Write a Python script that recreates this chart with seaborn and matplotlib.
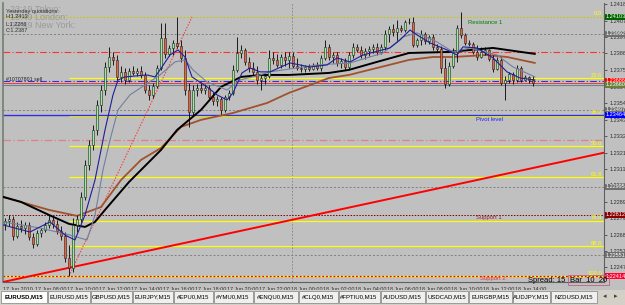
import numpy as np
import pandas as pd
import matplotlib
matplotlib.use("Agg")
import matplotlib.pyplot as plt
from matplotlib.patches import Rectangle
import seaborn as sns

# ---------------- data (EURUSD M15, 17-18 Jun 2010) ----------------
opens = [1.22754, 1.22773, 1.22786, 1.22675, 1.22741, 1.22727, 1.22747, 1.22669, 1.22623, 1.22695,
         1.22714, 1.22747, 1.22780, 1.22754, 1.22708, 1.22675, 1.22532, 1.22467, 1.22747, 1.22786,
         1.22930, 1.23138, 1.23269, 1.23366, 1.23529, 1.23627, 1.23777, 1.23842, 1.23823, 1.23712,
         1.23745, 1.23692, 1.23751, 1.23738, 1.23751, 1.23725, 1.23627, 1.23595, 1.23653, 1.23771,
         1.23966, 1.23862, 1.23901, 1.23934, 1.23914, 1.23836, 1.23627, 1.23484, 1.23627, 1.23640,
         1.23627, 1.23640, 1.23582, 1.23555, 1.23569, 1.23497, 1.23582, 1.23608, 1.23758, 1.23868,
         1.23888, 1.23810, 1.23771, 1.23745, 1.23692, 1.23705, 1.23718, 1.23836, 1.23823, 1.23790,
         1.23842, 1.23823, 1.23849, 1.23784, 1.23771, 1.23764, 1.23777, 1.23764, 1.23790, 1.23771,
         1.23836, 1.23908, 1.23842, 1.23855, 1.23803, 1.23816, 1.23777, 1.23855, 1.23908, 1.23888,
         1.23855, 1.23881, 1.23895, 1.23908, 1.23875, 1.23908, 1.23992, 1.24025, 1.24005, 1.24031,
         1.24018, 1.24071, 1.24071, 1.23921, 1.23953, 1.23992, 1.23947, 1.23973, 1.23908, 1.23895,
         1.23771, 1.23666, 1.23784, 1.23875, 1.24031, 1.23986, 1.23934, 1.23927, 1.23875, 1.23842,
         1.23875, 1.23888, 1.23829, 1.23764, 1.23823, 1.23673, 1.23692, 1.23732, 1.23692, 1.23771,
         1.23692, 1.23712, 1.23692]
highs = [1.22793, 1.22812, 1.22806, 1.22767, 1.22780, 1.22767, 1.22767, 1.22695, 1.22714, 1.22727,
         1.22767, 1.22812, 1.22806, 1.22780, 1.22741, 1.22701, 1.22617, 1.22793, 1.22812, 1.22962,
         1.23171, 1.23301, 1.23399, 1.23562, 1.23660, 1.23810, 1.23908, 1.23875, 1.23855, 1.23784,
         1.23771, 1.23771, 1.23784, 1.23771, 1.23784, 1.23745, 1.23660, 1.23673, 1.23790, 1.24064,
         1.24064, 1.23921, 1.23953, 1.24103, 1.23953, 1.23888, 1.23673, 1.23660, 1.23666, 1.23679,
         1.23666, 1.23660, 1.23614, 1.23588, 1.23582, 1.23595, 1.23627, 1.23790, 1.23973, 1.23921,
         1.23901, 1.23842, 1.23810, 1.23784, 1.23725, 1.23738, 1.23888, 1.23875, 1.23862, 1.23862,
         1.23875, 1.23875, 1.23875, 1.23836, 1.23797, 1.23790, 1.23797, 1.23803, 1.23810, 1.23855,
         1.23953, 1.23927, 1.23875, 1.23875, 1.23836, 1.23836, 1.23875, 1.23934, 1.23927, 1.23914,
         1.23901, 1.23914, 1.23927, 1.23934, 1.23927, 1.24018, 1.24044, 1.24058, 1.24084, 1.24051,
         1.24084, 1.24097, 1.24103, 1.23966, 1.24018, 1.24005, 1.23986, 1.23992, 1.23927, 1.23914,
         1.23836, 1.23810, 1.23901, 1.24051, 1.24136, 1.23999, 1.23953, 1.23940, 1.23921, 1.23908,
         1.23908, 1.23895, 1.23855, 1.23842, 1.23842, 1.23718, 1.23745, 1.23745, 1.23790, 1.23784,
         1.23725, 1.23718, 1.23718]
lows = [1.22714, 1.22741, 1.22649, 1.22662, 1.22701, 1.22688, 1.22649, 1.22597, 1.22610, 1.22669,
        1.22701, 1.22727, 1.22727, 1.22688, 1.22649, 1.22506, 1.22414, 1.22441, 1.22701, 1.22767,
        1.22910, 1.23106, 1.23236, 1.23334, 1.23484, 1.23595, 1.23745, 1.23790, 1.23692, 1.23679,
        1.23666, 1.23679, 1.23725, 1.23718, 1.23705, 1.23608, 1.23562, 1.23575, 1.23640, 1.23758,
        1.23836, 1.23849, 1.23855, 1.23901, 1.23810, 1.23595, 1.23386, 1.23464, 1.23588, 1.23608,
        1.23601, 1.23562, 1.23529, 1.23523, 1.23471, 1.23484, 1.23562, 1.23595, 1.23745, 1.23836,
        1.23790, 1.23745, 1.23718, 1.23666, 1.23627, 1.23666, 1.23705, 1.23797, 1.23777, 1.23771,
        1.23784, 1.23771, 1.23771, 1.23758, 1.23745, 1.23745, 1.23751, 1.23758, 1.23758, 1.23751,
        1.23823, 1.23823, 1.23803, 1.23784, 1.23771, 1.23758, 1.23764, 1.23836, 1.23875, 1.23836,
        1.23829, 1.23849, 1.23868, 1.23855, 1.23862, 1.23888, 1.23940, 1.23979, 1.23940, 1.24005,
        1.24005, 1.24058, 1.23908, 1.23908, 1.23921, 1.23927, 1.23927, 1.23888, 1.23875, 1.23738,
        1.23640, 1.23653, 1.23771, 1.23810, 1.23966, 1.23921, 1.23914, 1.23862, 1.23823, 1.23836,
        1.23855, 1.23816, 1.23745, 1.23758, 1.23660, 1.23562, 1.23673, 1.23666, 1.23679, 1.23679,
        1.23686, 1.23673, 1.23653]
closes = [1.22773, 1.22786, 1.22675, 1.22741, 1.22727, 1.22747, 1.22669, 1.22623, 1.22695, 1.22714,
          1.22747, 1.22780, 1.22754, 1.22708, 1.22675, 1.22532, 1.22467, 1.22747, 1.22786, 1.22930,
          1.23138, 1.23269, 1.23366, 1.23529, 1.23627, 1.23777, 1.23842, 1.23823, 1.23712, 1.23745,
          1.23692, 1.23751, 1.23738, 1.23751, 1.23725, 1.23627, 1.23595, 1.23653, 1.23771, 1.23966,
          1.23862, 1.23901, 1.23934, 1.23914, 1.23836, 1.23627, 1.23484, 1.23627, 1.23640, 1.23627,
          1.23640, 1.23582, 1.23555, 1.23569, 1.23497, 1.23582, 1.23608, 1.23758, 1.23868, 1.23888,
          1.23810, 1.23771, 1.23745, 1.23692, 1.23705, 1.23718, 1.23836, 1.23823, 1.23790, 1.23842,
          1.23823, 1.23849, 1.23784, 1.23771, 1.23764, 1.23777, 1.23764, 1.23790, 1.23771, 1.23836,
          1.23908, 1.23842, 1.23855, 1.23803, 1.23816, 1.23777, 1.23855, 1.23908, 1.23888, 1.23855,
          1.23881, 1.23895, 1.23908, 1.23875, 1.23908, 1.23992, 1.24025, 1.24005, 1.24031, 1.24018,
          1.24071, 1.24072, 1.23921, 1.23953, 1.23992, 1.23947, 1.23973, 1.23908, 1.23895, 1.23771,
          1.23666, 1.23784, 1.23875, 1.24031, 1.23986, 1.23934, 1.23927, 1.23875, 1.23842, 1.23875,
          1.23888, 1.23829, 1.23764, 1.23823, 1.23673, 1.23692, 1.23732, 1.23692, 1.23771, 1.23692,
          1.23712, 1.23692, 1.23673]

# moving averages read at sample bars
ma_black_bar = [-0.5, 4, 11, 16, 20, 22.5, 25, 31, 39, 43, 49, 54, 59, 64, 71, 81, 86, 93, 101, 111, 122, 132.5]
ma_black_val = [1.22930, 1.22897, 1.22812, 1.22754, 1.22734, 1.22767, 1.22845, 1.23027, 1.23236, 1.23366,
                1.23497, 1.23647, 1.23712, 1.23725, 1.23725, 1.23738, 1.23758, 1.23810, 1.23868, 1.23875,
                1.23901, 1.23862]
ma_brown_bar = [-0.5, 11, 18, 24, 29, 34, 39, 44, 49, 57, 65.5, 71, 81, 86, 96, 101, 107, 112, 120.5, 125.5, 132.5]
ma_brown_val = [1.22930, 1.22845, 1.22806, 1.22864, 1.23040, 1.23171, 1.23249, 1.23386, 1.23432, 1.23477,
                1.23542, 1.23608, 1.23705, 1.23725, 1.23790, 1.23823, 1.23842, 1.23842, 1.23855, 1.23842,
                1.23803]
ma_blue_bar = [-0.5, 6.25, 11.25, 15, 17.5, 20, 22.5, 25, 27, 28.25, 30, 35.5, 37.5, 38.75, 41.25, 43.25,
               45, 46.75, 50.5, 53, 55.5, 57, 59.25, 61.25, 63.75, 66.25, 71.25, 76.25, 80.5, 83, 86.25,
               89.5, 96.25, 98.75, 101.25, 103, 106.25, 110.5, 113, 114.5, 118, 122, 125.5, 128.75, 132.5]
ma_blue_val = [1.22747, 1.22701, 1.22767, 1.22681, 1.22649, 1.22812, 1.23040, 1.23366, 1.23595, 1.23692,
               1.23712, 1.23725, 1.23712, 1.23758, 1.23855, 1.23888, 1.23842, 1.23712, 1.23647, 1.23595,
               1.23562, 1.23608, 1.23738, 1.23771, 1.23745, 1.23745, 1.23803, 1.23777, 1.23790, 1.23836,
               1.23810, 1.23855, 1.23901, 1.23953, 1.24018, 1.23986, 1.23934, 1.23888, 1.23855, 1.23908,
               1.23901, 1.23836, 1.23745, 1.23705, 1.23692]
ma_gray_bar = [-0.5, 8.75, 16.25, 20.5, 22.5, 24.5, 26.25, 28.25, 31.25, 35, 38.75, 42.5, 45, 47, 50.5,
               55.5, 58.75, 63.75, 66.25, 78, 86.25, 94.5, 99.5, 103, 108, 112, 116.25, 123, 127, 132.5]
ma_gray_val = [1.22767, 1.22727, 1.22681, 1.22649, 1.22812, 1.23106, 1.23301, 1.23497, 1.23595, 1.23660,
               1.23725, 1.23810, 1.23823, 1.23758, 1.23679, 1.23627, 1.23692, 1.23725, 1.23745, 1.23790,
               1.23803, 1.23868, 1.23973, 1.23999, 1.23940, 1.23875, 1.23901, 1.23855, 1.23777, 1.23712]

# trend line and fibonacci anchors
trend_bar = [-0.5, 149.75]
trend_val = [1.22375, 1.23218]
fib_anchor_bar = [16, 46.75]
fib_anchor_val = [1.22414, 1.24103]
fib_names = ["0.0", "23.6", "38.2", "50.0", "61.8", "78.6", "88.6", "100.0"]
fib_prices = [1.24103, 1.23704, 1.23458, 1.23259, 1.23059, 1.22775, 1.22607, 1.22414]

# other horizontal levels
pivot_price = 1.23464
level_prices = [1.23992, 1.23875, 1.23686, 1.23673, 1.23660, 1.23497, 1.23301, 1.22995, 1.22812, 1.22551]

price_ticks = [1.24185, 1.24075, 1.23970, 1.23865, 1.23755, 1.23645, 1.23540, 1.23430, 1.23325,
               1.23215, 1.23110, 1.23005, 1.22895, 1.22790, 1.22680, 1.22575, 1.22470]
time_labels = ["17 Jun 2010", "17 Jun 08:00", "17 Jun 10:00", "17 Jun 12:00", "17 Jun 14:00",
               "17 Jun 16:00", "17 Jun 18:00", "17 Jun 20:00", "17 Jun 22:00", "18 Jun 00:00",
               "18 Jun 02:00", "18 Jun 04:00", "18 Jun 06:00", "18 Jun 08:00", "18 Jun 10:00",
               "18 Jun 12:00", "18 Jun 14:00"]
tab_names = ["EURUSD,M15", "EURUSD,M15", "GBPUSD,M15", "EURJPY,M15", "#EPU0,M15", "#YMU0,M15",
             "#ENQU0,M15", "#CLQ0,M15", "#FPTIU0,M15", "AUDUSD,M15", "USDCAD,M15", "EURGBP,M15",
             "AUDJPY,M15", "NZDUSD,M15"]

# ---------------- figure ----------------
sns.set_style("white")
plt.rcParams["font.family"] = ["Liberation Sans", "DejaVu Sans"]
W, H = 625, 305
BG = "#C0C0C0"
fig = plt.figure(figsize=(W / 100, H / 100), dpi=100, facecolor=BG)
ax = fig.add_axes([3 / W, 1 - 282 / H, (604 - 3) / W, (282 - 3) / H])
ax.set_facecolor(BG)
ax.set_xlim(-0.5, 149.75)
ax.set_ylim(1.22375, 1.24194)

bars = np.arange(len(closes))
df = pd.DataFrame({"bar": bars, "open": opens, "high": highs, "low": lows, "close": closes})

# grid / separators
ax.axvline(71.75, color="#808080", lw=0.6, ls=(0, (2, 2)), zorder=1)

# horizontal levels
ax.axhline(level_prices[0], color="#808080", lw=0.7, ls=(0, (2, 2)), zorder=1)
ax.axhline(level_prices[1], color="#FF3030", lw=0.8, ls=(0, (6, 2, 1, 2)), zorder=1)
ax.axhline(level_prices[5], color="#808080", lw=0.7, ls=(0, (2, 2)), zorder=1)
ax.axhline(level_prices[6], color="#E08080", lw=0.9, ls=(0, (6, 2, 1, 2)), zorder=1)
ax.axhline(level_prices[7], color="#808080", lw=0.7, ls=(0, (2, 2)), zorder=1)
ax.axhline(level_prices[8], color="#800000", lw=0.7, ls=(0, (1.5, 1.5)), zorder=1)
ax.axhline(level_prices[9], color="#808080", lw=0.7, ls=(0, (2, 2)), zorder=1)

# fibonacci
for name, p in zip(fib_names, fib_prices):
    if name in ("0.0", "100.0"):
        continue
    ax.hlines(p, fib_anchor_bar[0], 149.75, color="#FFFF00", lw=0.9, zorder=2)
ax.axhline(fib_prices[0], color="#C8C800", lw=0.8, ls=(0, (1.5, 1.5)), zorder=2)
ax.axhline(fib_prices[-1], color="#FFFF00", lw=0.9, zorder=2)
ax.axhline(fib_prices[-1], color="#FF0000", lw=0.9, ls=(0, (1.5, 1.5)), zorder=2)
for name, p in zip(fib_names, fib_prices):
    ax.text(149.3, p + 0.00003, name, color="#FFFF00", fontsize=4.2, ha="right", va="bottom", zorder=3)
ax.plot(fib_anchor_bar, fib_anchor_val, color="#FF3030", lw=0.7, ls=(0, (1.5, 1.5)), zorder=3)

# pivot and order lines
ax.axhline(pivot_price, color="#3030E0", lw=1.0, zorder=2)
ax.axhline(level_prices[2], color="#3030E0", lw=0.8, ls=(0, (6, 2, 1, 2)), zorder=2)
ax.axhline(level_prices[3], color="#FF2020", lw=0.6, zorder=2)
ax.axhline(level_prices[4], color="#708090", lw=0.8, zorder=2)

# trend line
sns.lineplot(x=trend_bar, y=trend_val, ax=ax, color="#FF0000", lw=1.4, zorder=3)

# moving averages
sns.lineplot(x=ma_brown_bar, y=ma_brown_val, ax=ax, color="#A0522D", lw=1.3, zorder=4)
sns.lineplot(x=ma_black_bar, y=ma_black_val, ax=ax, color="#000000", lw=1.4, zorder=4)
sns.lineplot(x=ma_gray_bar, y=ma_gray_val, ax=ax, color="#7080A0", lw=0.8, zorder=6)
sns.lineplot(x=ma_blue_bar, y=ma_blue_val, ax=ax, color="#1E1E9A", lw=0.8, zorder=6)

# candles
up = df["close"] >= df["open"]
ax.vlines(df["bar"], df["low"], df["high"], color="#000000", lw=0.6, zorder=5)
body_bottom = np.minimum(df["open"], df["close"])
body_h = np.maximum(np.abs(df["close"] - df["open"]), 0.000015)
colors = np.where(up, "#9CEB9C", "#E8643C")
ax.bar(df["bar"], body_h, bottom=body_bottom, width=0.72, color=colors,
       edgecolor="#202020", linewidth=0.4, zorder=5)

# labels on levels
ax.text(120, 1.24070, "Resistance 1", color="#008000", fontsize=4.2, ha="center", va="center", zorder=7)
ax.text(121, pivot_price - 0.00028, "Pivot level", color="#2020FF", fontsize=4.2, ha="center", va="center", zorder=7)
ax.text(121, level_prices[8] - 0.00018, "Support 1", color="#A02020", fontsize=4.2, ha="center", va="center", zorder=7)
ax.text(122, fib_prices[-1] - 0.00018, "Support 2", color="#E03050", fontsize=4.2, ha="center", va="center", zorder=7)
ax.text(0.2, level_prices[2] + 0.00010, "#10707801 sell", color="#202020", fontsize=3.8, ha="left", va="center", zorder=7)

# axes styling
for s in ["top", "right"]:
    ax.spines[s].set_visible(False)
ax.spines["left"].set_color("#708070")
ax.spines["left"].set_linewidth(1.2)
ax.spines["bottom"].set_color("#606060")
ax.spines["bottom"].set_linewidth(0.8)
ax.yaxis.tick_right()
ax.set_yticks(price_ticks)
ax.set_yticklabels([f"{v:.5f}" for v in price_ticks])
ax.tick_params(axis="y", labelsize=4.0, length=2, pad=2, colors="#303030", width=0.5)
ax.spines["right"].set_visible(True)
ax.spines["right"].set_color("#606060")
ax.spines["right"].set_linewidth(0.8)
xt = [8 * k - 0.5 for k in range(len(time_labels))]
ax.set_xticks(xt)
ax.set_xticklabels(time_labels, ha="left")
ax.tick_params(axis="x", labelsize=3.9, length=2, pad=1.5, colors="#303030", width=0.5)
ax.set_xlabel("")
ax.set_ylabel("")
if ax.get_legend():
    ax.get_legend().remove()

# price boxes on the right axis
boxes = [(fib_prices[0], "#006400", "white"), (level_prices[0], "#707070", "white"),
         (level_prices[2], "#FF0000", "white"), (level_prices[4], "#6B7F3A", "white"),
         (level_prices[5], "#707070", "white"), (pivot_price, "#0000FF", "white"),
         (level_prices[7], "#707070", "white"), (level_prices[8], "#8B0000", "white"),
         (level_prices[9], "#707070", "white"), (fib_prices[-1], "#FF0030", "white")]
tr = matplotlib.transforms.blended_transform_factory(ax.transAxes, ax.transData)
for p, fc, tc in boxes:
    ax.text(1.003, p, f"{p:.5f}", transform=tr, fontsize=4.0, color=tc, ha="left", va="center",
            bbox=dict(boxstyle="square,pad=0.15", fc=fc, ec="none"), clip_on=False, zorder=8)

# top-left info
fig.text(10 / W, 1 - 9 / H, "23:19 Tokyo:", color="#9A9A9A", fontsize=6.5, va="center")
fig.text(10 / W, 1 - 17 / H, "15:49 London:", color="#9A9A9A", fontsize=6.5, va="center")
fig.text(10 / W, 1 - 25 / H, "09:49 New York:", color="#9A9A9A", fontsize=6.5, va="center")
fig.text(6 / W, 1 - 11 / H, "Yesterday quotations:", color="#303030", fontsize=4, va="center")
fig.text(6 / W, 1 - 17 / H, "H:1.2413", color="#303030", fontsize=4, va="center")
fig.text(6 / W, 1 - 24 / H, "L:1.2286", color="#303030", fontsize=4, va="center")
fig.text(6 / W, 1 - 31 / H, "C:1.2387", color="#303030", fontsize=4, va="center")

# spread / bar info
fig.text(528 / W, 1 - 280 / H, "Spread: 15", color="#000000", fontsize=5.5, va="center")
fig.text(570 / W, 1 - 280 / H, "Bar  10  20", color="#000000", fontsize=5.5, va="center",
         bbox=dict(boxstyle="square,pad=0.2", fc="none", ec="#C06080", lw=0.6))

# tabs
tab_ax = fig.add_axes([0, 0, 1, 15 / H])
tab_ax.set_xlim(0, W)
tab_ax.set_ylim(15, 0)
tab_ax.axis("off")
tab_ax.add_patch(Rectangle((0, 0), W, 15, fc="#D4D0C8", ec="none"))
tab_edges = [0, 47, 90, 132, 173, 213, 253, 298, 338, 380, 425, 468, 512, 550, 597]
for k, name in enumerate(tab_names):
    x0, x1 = tab_edges[k], tab_edges[k + 1]
    fc = "#FFFFFF" if k == 0 else "#F0F0F0"
    tab_ax.add_patch(Rectangle((x0 + 0.5, 1), x1 - x0 - 1, 12, fc=fc, ec="#808080", lw=0.5))
    tab_ax.text((x0 + x1) / 2, 7, name, fontsize=4.3, ha="center", va="center", color="#000000",
                fontweight="bold" if k == 0 else "normal")
tab_ax.text(605, 7, "\u25c2", fontsize=5, ha="center", va="center", color="#404040")
tab_ax.text(616, 7, "\u25b8", fontsize=5, ha="center", va="center", color="#404040")

fig.savefig("out.png", dpi=100, facecolor=BG)
